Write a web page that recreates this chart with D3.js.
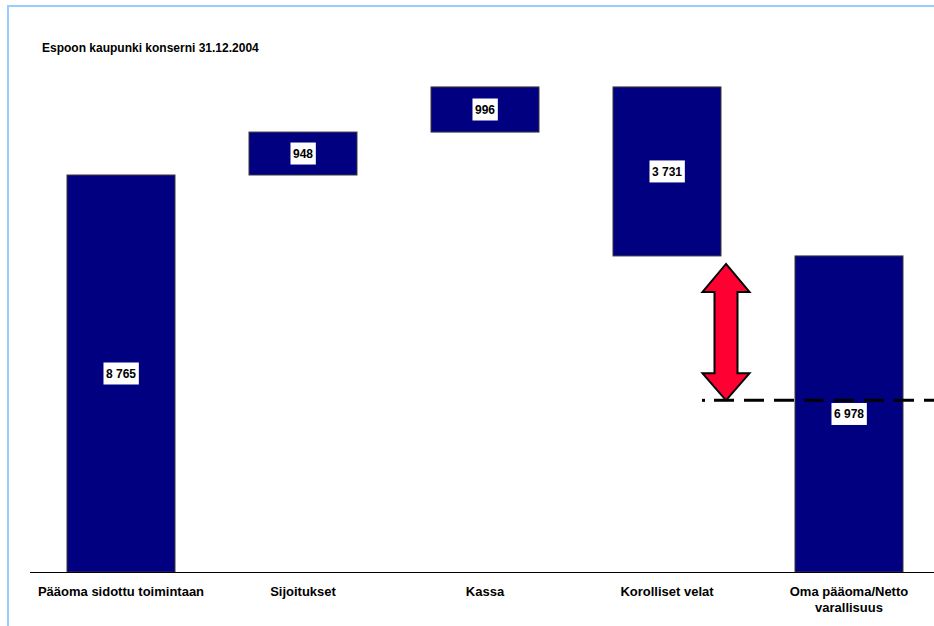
<!DOCTYPE html>
<html>
<head>
<meta charset="utf-8">
<script src="https://cdn.jsdelivr.net/npm/d3@7/dist/d3.min.js"></script>
<style>
  html, body { margin: 0; padding: 0; background: #fff; }
  svg { display: block; }
  text { font-family: Arial, "Liberation Sans", sans-serif; font-weight: bold; fill: #000; }
</style>
</head>
<body>
<svg id="chart" width="934" height="626"></svg>
<script>
// ---- data ----
const title = "Espoon kaupunki konserni 31.12.2004";
const categories = ["Pääoma sidottu toimintaan", "Sijoitukset", "Kassa", "Korolliset velat", "Oma pääoma/Netto varallisuus"];
const changes = [8765, 948, 996, -3731, 6978];   // last is the total
const isTotal = [false, false, false, false, true];
const valueLabels = ["8 765", "948", "996", "3 731", "6 978"];
const referenceValue = 3790;                      // dashed reference level
const yMax = 12000;

// ---- build waterfall segments ----
let running = 0;
const segments = changes.map((v, i) => {
  let lo, hi;
  if (isTotal[i]) { lo = 0; hi = v; running = v; }
  else { const start = running; running += v; lo = Math.min(start, running); hi = Math.max(start, running); }
  return { cat: categories[i], lo, hi, label: valueLabels[i] };
});

const svg = d3.select("#chart");

// frame
svg.append("rect").attr("x", 8).attr("y", 6).attr("width", 1000).attr("height", 1000)
  .attr("fill", "none").attr("stroke", "#99ccff").attr("stroke-width", 2);

// title
svg.append("text").attr("x", 42).attr("y", 52).attr("font-size", 12).text(title);

const x = d3.scaleBand().domain(categories).range([30, 940]).paddingInner(0.4066).paddingOuter(0.2033);
const y = d3.scaleLinear().domain([0, yMax]).range([572, 572 - yMax * (397 / 8765)]);

// bars
svg.append("g").selectAll("rect").data(segments).join("rect")
  .attr("x", d => x(d.cat))
  .attr("y", d => y(d.hi))
  .attr("width", x.bandwidth())
  .attr("height", d => y(d.lo) - y(d.hi))
  .attr("fill", "#000080")
  .attr("stroke", "#3a3a3a")
  .attr("stroke-width", 1);

// axis baseline
const axis = d3.axisBottom(x).tickSize(0).tickFormat("");
const gAxis = svg.append("g").attr("transform", `translate(0,${y(0)})`).call(axis);
gAxis.select(".domain").attr("d", "M30,0.5H940").attr("stroke", "#000").attr("stroke-width", 1);

// category labels
const catG = svg.append("g");
categories.forEach(c => {
  const words = c === "Oma pääoma/Netto varallisuus" ? ["Oma pääoma/Netto", "varallisuus"] : [c];
  const t = catG.append("text").attr("text-anchor", "middle").attr("font-size", 13)
    .attr("x", x(c) + x.bandwidth() / 2).attr("y", 596);
  words.forEach((w, k) => t.append("tspan").attr("x", x(c) + x.bandwidth() / 2).attr("dy", k === 0 ? 0 : 16).text(w));
});

// value labels with white boxes
const lblG = svg.append("g");
segments.forEach(d => {
  const cx = x(d.cat) + x.bandwidth() / 2;
  const cy = (y(d.lo) + y(d.hi)) / 2;
  const g = lblG.append("g");
  const r = g.append("rect").attr("fill", "#fff");
  const t = g.append("text").attr("text-anchor", "middle").attr("font-size", 12)
    .attr("x", cx).attr("y", cy + 4.3).text(d.label);
  const bb = t.node().getBBox();
  r.attr("x", bb.x - 2.5).attr("y", cy - 11).attr("width", bb.width + 5).attr("height", 22);
});

// dashed reference line
const refY = y(referenceValue);
const ax = x(categories[3]) + x.bandwidth() + 5;  // arrow centre
svg.append("line").attr("x1", ax - 24).attr("x2", ax - 21).attr("y1", refY).attr("y2", refY)
  .attr("stroke", "#000").attr("stroke-width", 3);
svg.append("line").attr("x1", ax - 12).attr("x2", 940).attr("y1", refY).attr("y2", refY)
  .attr("stroke", "#000").attr("stroke-width", 3).attr("stroke-dasharray", "20,10");

// double arrow
const topY = y(segments[4].hi) + 8;
const botY = refY;
const headH = 28, headW = 23.5, shaftW = 11.5;
const pts = [
  [ax, topY], [ax + headW, topY + headH], [ax + shaftW, topY + headH],
  [ax + shaftW, botY - headH + 1], [ax + headW, botY - headH + 1], [ax, botY],
  [ax - headW, botY - headH + 1], [ax - shaftW, botY - headH + 1],
  [ax - shaftW, topY + headH], [ax - headW, topY + headH]
];
svg.append("path").attr("d", d3.line()(pts) + "Z")
  .attr("fill", "#ff0033").attr("stroke", "#000").attr("stroke-width", 2).attr("stroke-linejoin", "miter");
</script>
</body>
</html>
